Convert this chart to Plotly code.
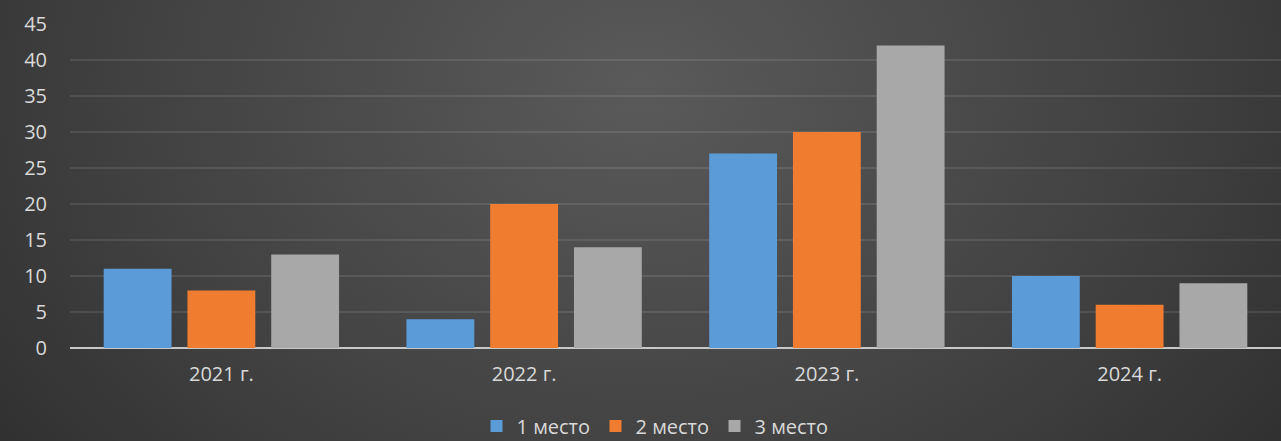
import base64
import plotly.graph_objects as go

categories = ["2021 г.", "2022 г.", "2023 г.", "2024 г."]
series_names = ["1 место", "2 место", "3 место"]
place1 = [11, 4, 27, 10]
place2 = [8, 20, 30, 6]
place3 = [13, 14, 42, 9]
y_ticks = [0, 5, 10, 15, 20, 25, 30, 35, 40, 45]

colors = ["#5b9bd8", "#f07d2f", "#a8a8a8"]

W, H = 1281, 441
L, R, T, B = 70, 0, 24, 93

svg = f'''<svg xmlns="http://www.w3.org/2000/svg" width="{W}" height="{H}" viewBox="0 0 {W} {H}" preserveAspectRatio="none">
<defs><radialGradient id="g" cx="0.5" cy="0.2" r="0.75" gradientTransform="translate(0.5 0.2) scale(1 2.2) translate(-0.5 -0.2)">
<stop offset="0" stop-color="#5a5a5a"/><stop offset="0.55" stop-color="#404040"/><stop offset="1" stop-color="#272727"/>
</radialGradient></defs>
<rect width="{W}" height="{H}" fill="url(#g)"/></svg>'''
bg_uri = "data:image/svg+xml;base64," + base64.b64encode(svg.encode()).decode()

pw = W - L - R
ph = H - T - B

fig = go.Figure()
for name, vals, c in zip(series_names, [place1, place2, place3], colors):
    fig.add_trace(go.Bar(
        x=categories, y=vals, name=name,
        marker=dict(color=c, line=dict(width=0)),
    ))

fig.update_layout(
    width=W, height=H,
    margin=dict(l=L, r=R, t=T, b=B, pad=0, autoexpand=False),
    paper_bgcolor="#333333",
    plot_bgcolor="rgba(0,0,0,0)",
    barmode="group",
    bargap=0.17,
    bargroupgap=0.19,
    font=dict(family="Open Sans, Noto Sans, sans-serif", size=20, color="#d9d9d9"),
    images=[dict(
        source=bg_uri, xref="paper", yref="paper",
        x=-L / pw, y=1 + T / ph, sizex=W / pw, sizey=H / ph,
        xanchor="left", yanchor="top", sizing="stretch", layer="below",
    )],
    xaxis=dict(
        showgrid=False, showline=False, ticks="",
        tickfont=dict(size=20, color="#d9d9d9"),
        ticklabelstandoff=12,
    ),
    yaxis=dict(
        range=[0, 45], tickvals=y_ticks,
        showgrid=True, gridcolor="rgba(255,255,255,0.10)", gridwidth=1.5,
        zeroline=True, zerolinecolor="#c8c8c8", zerolinewidth=2,
        showline=False, ticks="",
        tickfont=dict(size=20, color="#d9d9d9"),
        ticklabelstandoff=22,
    ),
    legend=dict(
        orientation="h", x=(655 - L) / pw, xanchor="center",
        y=(348 - 426) / ph, yanchor="middle",
        font=dict(size=20, color="#d9d9d9"),
        bgcolor="rgba(0,0,0,0)", itemwidth=30, tracegroupgap=0,
        entrywidth=74, entrywidthmode="pixels",
    ),
    showlegend=True,
)

fig.write_html("out.html", config={"displayModeBar": False},
               post_script="document.body.style.margin='0px';document.body.style.overflow='hidden';")
